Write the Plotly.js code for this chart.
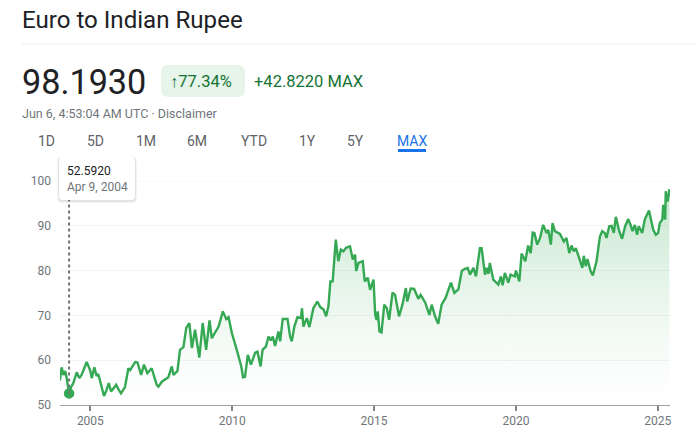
<!DOCTYPE html>
<html><head><meta charset="utf-8">
<script src="https://cdn.plot.ly/plotly-3.0.1.min.js"></script>
<style>html,body{margin:0;padding:0;background:#fff}#c{width:695px;height:436px}</style>
</head><body><div id="c"></div>
<script>
const years = [2003.91,2003.93,2003.99,2004.05,2004.11,2004.16,2004.25,2004.32,2004.40,2004.52,2004.61,2004.69,2004.87,2004.99,2005.05,2005.14,2005.22,2005.28,2005.36,2005.48,2005.55,2005.65,2005.73,2005.81,2005.91,2005.99,2006.08,2006.22,2006.34,2006.40,2006.58,2006.66,2006.79,2006.89,2007.01,2007.16,2007.34,2007.40,2007.52,2007.75,2007.87,2007.93,2008.07,2008.16,2008.28,2008.38,2008.49,2008.58,2008.69,2008.84,2008.96,2009.08,2009.20,2009.28,2009.52,2009.67,
2009.79,2009.87,2009.99,2010.16,2010.32,2010.38,2010.45,2010.55,2010.66,2010.81,2010.89,2011.00,2011.07,2011.19,2011.28,2011.36,2011.43,2011.51,2011.63,2011.69,2011.78,2011.95,2012.04,2012.10,2012.19,2012.30,2012.42,2012.46,2012.51,2012.63,2012.72,2012.86,2013.00,2013.10,2013.22,2013.31,2013.39,2013.46,2013.54,2013.65,2013.74,2013.83,2013.92,2014.01,2014.15,2014.25,2014.33,2014.37,2014.45,2014.60,2014.67,2014.78,2014.86,2014.98,2015.04,2015.09,2015.13,2015.19,2015.26,2015.36,2015.45,2015.53,2015.65,2015.74,2015.88,2016.00,2016.12,2016.17,2016.29,2016.41,2016.56,2016.64,2016.80,2016.95,2017.03,2017.15,2017.26,2017.38,2017.52,
2017.71,2017.83,2017.97,2018.09,2018.20,2018.30,2018.38,2018.50,2018.59,2018.73,2018.79,2018.91,2018.97,2019.03,2019.08,2019.20,2019.38,2019.47,2019.53,2019.61,2019.73,2019.81,2019.96,2020.00,2020.12,2020.20,2020.33,2020.43,2020.52,2020.59,2020.65,2020.75,2020.85,2020.96,2021.08,2021.14,2021.23,2021.29,2021.37,2021.55,2021.69,2021.78,2021.88,2021.96,2022.04,2022.11,2022.23,2022.34,2022.39,2022.46,2022.52,2022.63,2022.71,2022.84,2022.96,2023.04,2023.13,2023.19,2023.29,2023.37,2023.45,2023.52,2023.64,2023.74,2023.85,2023.96,2024.04,2024.11,2024.19,2024.27,2024.33,2024.45,2024.54,2024.69,2024.84,2024.93,2025.01,2025.07,2025.16,2025.19,2025.26,2025.28,2025.35,2025.41];
const rates = [55.6,55.7,58.4,56.7,57.6,56.2,52.59,54.0,54.9,57.3,56.0,56.7,59.6,57.8,56.0,58.4,56.5,56.9,54.9,52.0,53.0,54.9,53.0,53.7,54.5,53.5,52.6,54.0,58.2,57.8,59.6,59.5,56.7,59.0,57.1,58.2,54.5,54.1,55.2,56.2,58.6,56.7,57.6,62.3,62.9,67.2,68.3,62.7,66.8,60.6,68.3,62.3,68.9,64.9,67.5,70.9,
69.2,69.6,66.0,62.3,58.6,56.2,56.3,61.2,59.0,61.7,61.9,58.6,62.3,63.1,65.3,64.4,65.3,63.2,66.4,64.2,69.2,69.2,65.3,64.2,67.5,69.6,69.4,71.6,67.5,69.4,67.4,71.6,73.1,71.9,71.3,69.8,72.0,77.6,77.6,86.9,82.1,84.7,84.3,85.1,85.4,82.5,83.6,79.9,81.7,82.1,77.6,78.4,75.7,78.0,70.1,69.0,70.9,66.4,66.2,72.4,71.6,69.0,75.1,74.6,69.8,72.4,76.1,73.1,76.0,75.9,73.7,74.6,72.9,70.1,72.4,69.8,68.1,72.4,73.9,
77.3,75.0,75.8,79.9,80.4,80.6,79.1,80.6,78.7,85.0,85.0,79.1,80.6,79.3,81.7,78.0,76.9,78.7,76.7,79.5,77.3,79.1,78.7,80.0,77.6,83.8,82.1,85.6,83.9,88.5,88.4,85.8,87.3,90.2,88.4,89.1,85.8,90.6,88.8,88.2,86.5,87.3,83.9,85.6,84.3,85.0,82.8,80.6,83.3,81.0,82.6,79.9,78.9,82.1,87.6,88.8,88.4,87.3,89.9,90.0,88.4,92.0,88.8,87.1,89.9,91.5,90.2,88.8,90.2,88.0,89.9,88.4,91.4,93.4,89.1,88.0,88.4,90.6,91.4,94.7,91.4,97.7,95.4,98.2];
const markerYear = [2004.25];
const markerRate = [52.59];
const xTicks = [2005,2010,2015,2020,2025];
const yTicks = [50,60,70,80,90,100];
const ranges = ["1D","5D","1M","6M","YTD","1Y","5Y","MAX"];
const rangeCentres = [46,95,146,197,254,307,355,412];

const W=695,H=436,L=60,R=670,T=181,B=405;
const px=x=>(x-L)/(R-L), py=y=>(B-y)/(B-T);
const FONT='Roboto, Arial, sans-serif';
const txt=(text,x,y,size,color,anchor='left',extra={})=>Object.assign({text,x:px(x),y:py(y),xref:'paper',yref:'paper',xanchor:anchor,yanchor:'middle',showarrow:false,font:{family:FONT,size,color},borderpad:0,borderwidth:0},extra);
const round=(x0,y0,x1,y1,r,fill)=>({type:'path',xref:'paper',yref:'paper',layer:'above',fillcolor:fill,line:{width:0},
 path:`M${px(x0+r)},${py(y0)} L${px(x1-r)},${py(y0)} Q${px(x1)},${py(y0)} ${px(x1)},${py(y0+r)} L${px(x1)},${py(y1-r)} Q${px(x1)},${py(y1)} ${px(x1-r)},${py(y1)} L${px(x0+r)},${py(y1)} Q${px(x0)},${py(y1)} ${px(x0)},${py(y1-r)} L${px(x0)},${py(y0+r)} Q${px(x0)},${py(y0)} ${px(x0+r)},${py(y0)} Z`});

const annotations=[
 txt('Euro to Indian Rupee',22,20,24.1,'#202124'),
 txt('98.1930',22,82,34.2,'#202124'),
 txt('↑77.34%',170,81,16.5,'#137333'),
 txt('+42.8220 MAX',254,81,16.5,'#137333'),
 txt('Jun 6, 4:53:04 AM UTC · Disclaimer',22,113,12.5,'#70757a'),
 txt('52.5920',67,171,12,'#202124'),
 txt('Apr 9, 2004',67,187,12,'#70757a'),
 ...ranges.map((r,i)=>txt(r,rangeCentres[i],141,14,r==='MAX'?'#1a73e8':'#5f6368','center'))
];
const shapes=[
 {type:'line',xref:'paper',yref:'paper',x0:px(22),x1:px(695),y0:py(44),y1:py(44),line:{color:'#e8eaed',width:1}},
 {type:'line',xref:'paper',yref:'y',x0:0,x1:1,y0:yTicks[5],y1:yTicks[5],line:{color:'#f1f3f4',width:1},layer:'below'},
 round(161,65,245,97,8,'#e6f4ea'),
 {type:'line',xref:'paper',yref:'paper',x0:px(398),x1:px(426),y0:py(150.5),y1:py(150.5),line:{color:'#1a73e8',width:3}},
 {type:'line',xref:'x',yref:'y',x0:markerYear[0],x1:markerYear[0],y0:markerRate[0],y1:py(200)*50+50,line:{color:'#70757a',width:2,dash:'dot'},layer:'above'},
 round(57,157,137,203,5,'rgba(60,64,67,0.05)'),
 round(58,157,136,202,4,'rgba(60,64,67,0.10)'),
 round(59,157,135,200,4,'#ffffff')
];
Plotly.newPlot('c',[
 {x:years,y:rates,type:'scatter',mode:'lines',line:{color:'#34a853',width:2.4,shape:'linear'},fill:'tozeroy',
  fillgradient:{type:'vertical',start:100,stop:50,colorscale:[[0,'rgba(52,168,83,0.30)'],[0.4,'rgba(52,168,83,0.14)'],[0.8,'rgba(52,168,83,0.03)'],[1,'rgba(52,168,83,0)']]},hoverinfo:'skip'},
 {x:markerYear,y:markerRate,type:'scatter',mode:'markers',marker:{color:'#34a853',size:10.5},cliponaxis:false,hoverinfo:'skip'}
],{
 width:W,height:H,showlegend:false,paper_bgcolor:'#fff',plot_bgcolor:'#fff',
 margin:{l:L,r:W-R,t:T,b:H-B,pad:0},
 xaxis:{type:'linear',range:[2003.93,2025.43],tickmode:'array',tickvals:xTicks,ticktext:xTicks.map(String),ticks:'outside',ticklen:5,tickwidth:2,tickcolor:'#80868b',showgrid:false,zeroline:false,showline:true,linecolor:'#9aa0a6',linewidth:1,tickfont:{family:FONT,size:12,color:'#70757a'}},
 yaxis:{range:[50,100],tickmode:'array',tickvals:yTicks,ticktext:yTicks.map(String),ticks:'',showgrid:true,gridcolor:'#f1f3f4',gridwidth:1,zeroline:false,showline:false,ticklabelstandoff:8,tickfont:{family:FONT,size:12,color:'#70757a'}},
 annotations,shapes
},{staticPlot:true,displayModeBar:false});
</script></body></html>
